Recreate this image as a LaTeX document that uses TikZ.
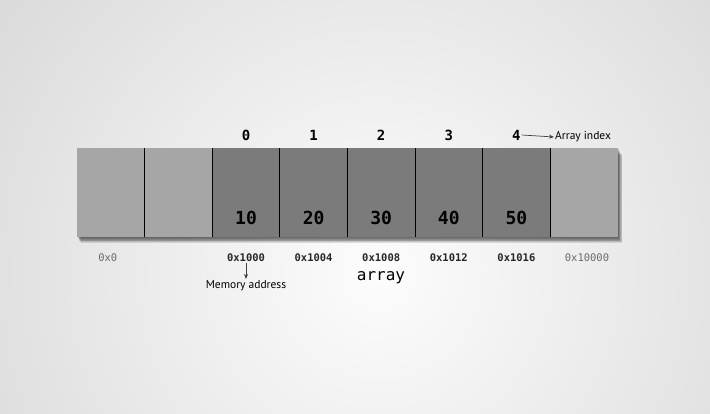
\documentclass[tikz,border=0pt]{standalone}
\usepackage{fontspec}
\newfontfamily\codefont{DejaVu Sans Mono}
\newfontfamily\notefont{PT Sans}
\usetikzlibrary{arrows.meta}
\definecolor{cellL}{HTML}{A6A6A6}
\definecolor{cellD}{HTML}{7B7B7B}
\definecolor{addrgray}{HTML}{6A6A6A}
\tikzset{
  cellbox/.style={rectangle, minimum width=67.6pt, minimum height=89pt, inner sep=0pt, outer sep=0pt},
  sepline/.style={black, line width=0.9pt},
  idxtext/.style={font=\codefont\bfseries\fontsize{14}{16}\selectfont, inner sep=1pt},
  valtext/.style={font=\codefont\bfseries\fontsize{18}{20}\selectfont, inner sep=1pt},
  addrtext/.style={font=\codefont\bfseries\fontsize{10.5}{12}\selectfont, text=black!85, inner sep=1pt},
  addrfaint/.style={font=\codefont\fontsize{10.5}{12}\selectfont, text=addrgray, inner sep=1pt},
  notetext/.style={font=\notefont\fontsize{11.5}{13}\selectfont, text=black, inner sep=1pt},
  ptr/.style={-{Stealth[length=5pt,width=4pt]}, black!75, line width=0.7pt}
}
\begin{document}
\begin{tikzpicture}[x=1pt,y=-1pt]
% background
\fill[gray!45] (0,0) rectangle (710,414);
\begin{scope}
  \clip (0,0) rectangle (710,414);
  \shade[inner color=gray!2, outer color=gray!47] (378,272) circle (780);
\end{scope}

% shadow of the strip
\foreach \s in {1,...,7}{
  \fill[black, opacity=0.11] (77+\s*0.5, 148+\s) rectangle (618+\s*0.6, 237+\s*0.9);
}

% memory cells
\foreach \i/\tone in {0/cellL,1/cellL,2/cellD,3/cellD,4/cellD,5/cellD,6/cellD,7/cellL}{
  \node[cellbox, fill=\tone] (c\i) at (110.8+67.6*\i, 192.5) {};
}
\foreach \i in {0,...,6}{
  \draw[sepline] (c\i.north east) -- (c\i.south east);
}

% index, values, addresses
\foreach \i/\n/\v/\a in {2/0/10/0x1000,3/1/20/0x1004,4/2/30/0x1008,5/3/40/0x1012,6/4/50/0x1016}{
  \node[idxtext] (idx\n) at ([yshift=13pt]c\i.north) {\n};
  \node[valtext] (val\n) at ([yshift=19pt]c\i.south) {\v};
  \node[addrtext] (addr\n) at ([yshift=-21pt]c\i.south) {\a};
}
\node[addrfaint] (addrlow) at ([xshift=-3pt,yshift=-21pt]c0.south) {0x0};
\node[addrfaint] (addrhigh) at ([xshift=3pt,yshift=-21pt]c7.south) {0x10000};

\node[font=\codefont\fontsize{16}{18}\selectfont, inner sep=1pt] (arrname) at (381,278) {array};
\node[notetext, anchor=north] (memnote) at (246,279) {Memory address};
\node[notetext, anchor=west] (idxnote) at (554,137) {Array index};

\draw[ptr] (addr0.south) -- (memnote.north);
\draw[ptr] (idx4.east) -- (idxnote.west);
\end{tikzpicture}
\end{document}
